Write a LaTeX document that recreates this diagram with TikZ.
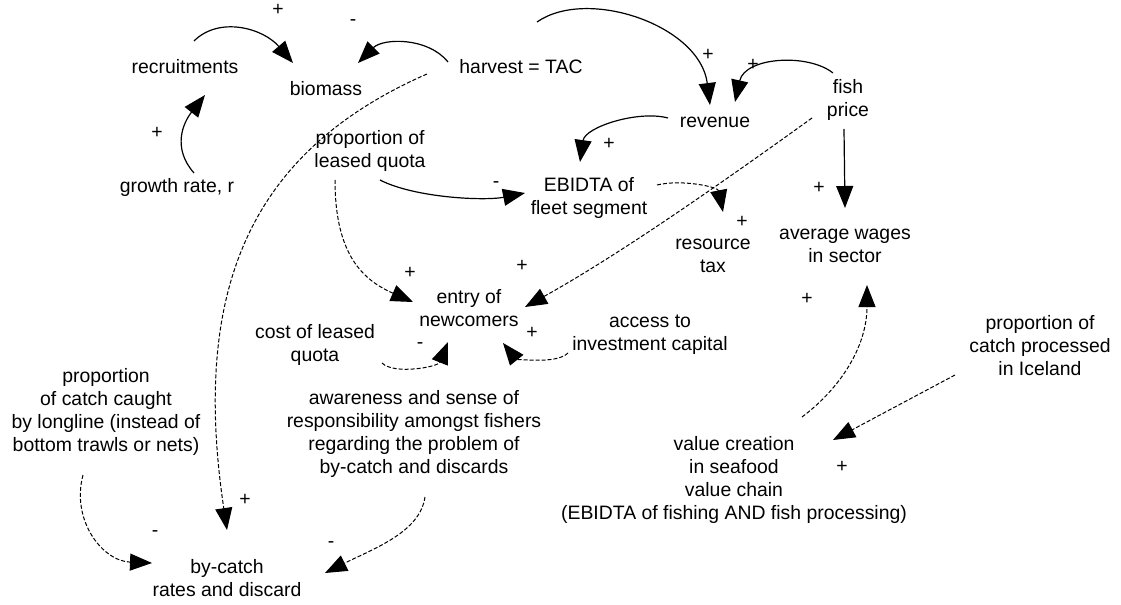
\documentclass[tikz,border=0pt]{standalone}
\usepackage{fontspec}
\setmainfont{Liberation Sans}
\usetikzlibrary{arrows.meta}

\begin{document}
\begin{tikzpicture}[x=0.5pt, y=-0.5pt,
  every node/.style = {align=center, inner sep=0pt,
    font=\fontsize{9.7}{11.5}\selectfont},
  link/.style = {line width=0.6pt, -{Triangle[length=11pt,width=8.5pt]}},
  dlink/.style = {link, line width=0.5pt, dash pattern=on 2pt off 1pt}]
  \useasboundingbox (0,0) rectangle (1121,605);
  \node (recruit) at (185,67) {recruitments};
  \node (biomass) at (326,89) {biomass};
  \node (harvest) at (521,67) {harvest = TAC};
  \node (growth) at (177,187) {growth rate, r};
  \node (leased) at (370,151) {proportion of\\leased quota};
  \node (ebidta) at (589,198) {EBIDTA of\\fleet segment};
  \node (revenue) at (715,122) {revenue};
  \node (fish) at (848,100) {fish\\price};
  \node (tax) at (713,256) {resource\\tax};
  \node (wages) at (845,246) {average wages\\in sector};
  \node (entry) at (469,308) {entry of\\newcomers};
  \node (cost) at (315,345) {cost of leased\\quota};
  \node (access) at (650,335) {access to\\investment capital};
  \node (longline) at (106,412) {proportion\\of catch caught\\by longline (instead of\\bottom trawls or nets)};
  \node (aware) at (414,434) {awareness and sense of\\responsibility amongst fishers\\regarding the problem of\\by-catch and discards};
  \node (bycatch) at (227,578) {by-catch\\rates and discard};
  \node (iceland) at (1040,346) {proportion of\\catch processed\\in Iceland};
  \node (value) at (734,480) {value creation\\in seafood\\value chain\\(EBIDTA of fishing AND fish processing)};

  \foreach \n/\x/\y/\s in {1/278/10/+, 2/353/23/-, 3/157/133/+, 4/708/55/+,
      5/753/65/+, 6/609/144/+, 7/496/185/-, 8/742/222/+, 9/819/188/+,
      10/410/273/+, 11/522/266/+, 12/420/346/-, 13/532/333/+, 14/807/299/+,
      15/245/500/+, 16/155/534/-, 17/331/545/-, 18/842/467/+}
    \node (sign\n) at (\x,\y) {\s};

  \draw[link] ([shift={(9,-26)}]recruit.center) .. controls +(25,-25) and +(-30,-35) .. ([shift={(-33,-26)}]biomass.center);
  \draw[link] ([shift={(-73,-5)}]harvest.center) .. controls +(-20,-25) and +(25,-25) .. ([shift={(32,-26)}]biomass.center);
  \draw[link] ([shift={(17,-14)}]growth.center) .. controls +(-22,-25) and +(-22,28) .. ([shift={(20,28)}]recruit.center);
  \draw[link] ([shift={(10,29)}]leased.center) .. controls +(35,18) and +(-40,8) .. ([shift={(-64,-5)}]ebidta.center);
  \draw[link] ([shift={(16,-45)}]harvest.center) .. controls +(50,-35) and +(-10,-80) .. ([shift={(-5,-17)}]revenue.center);
  \draw[link] ([shift={(-15,-27)}]fish.center) .. controls +(-25,-20) and +(10,-45) .. ([shift={(20,-20)}]revenue.center);
  \draw[link] ([shift={(-47,-4)}]revenue.center) .. controls +(-30,-8) and +(5,-35) .. ([shift={(-9,-36)}]ebidta.center);
  \draw[dlink] ([shift={(68,-13)}]ebidta.center) .. controls +(25,-6) and +(-5,-25) .. ([shift={(10,-44)}]tax.center);
  \draw[link] ([shift={(-4,29)}]fish.center) -- ([shift={(0,-38)}]wages.center);
  \draw[dlink] ([shift={(-36,18)}]fish.center) .. controls +(-100,72) and +(90,-50) .. ([shift={(56,-1)}]entry.center);
  \draw[dlink] ([shift={(-35,29)}]leased.center) .. controls +(0,75) and +(-50,-22) .. ([shift={(-56,-6)}]entry.center);
  \draw[dlink] ([shift={(67,18)}]cost.center) .. controls +(12,12) and +(-10,25) .. ([shift={(-21,34)}]entry.center);
  \draw[dlink] ([shift={(-82,18)}]access.center) .. controls +(-12,12) and +(12,15) .. ([shift={(34,35)}]entry.center);
  \draw[dlink] ([shift={(68,-63)}]value.center) .. controls +(40,-30) and +(0,60) .. ([shift={(22,39)}]wages.center);
  \draw[dlink] ([shift={(-85,29)}]iceland.center) -- ([shift={(99,-40)}]value.center);
  \draw[dlink] ([shift={(-94,7)}]harvest.center) .. controls +(-176,77) and +(-36,-242) .. ([shift={(0,-48)}]bycatch.center);
  \draw[dlink] ([shift={(-23,63)}]longline.center) .. controls +(-12,45) and +(-50,-2) .. ([shift={(-75,-15)}]bycatch.center);
  \draw[dlink] ([shift={(11,63)}]aware.center) .. controls +(-5,35) and +(50,-25) .. ([shift={(98,-5)}]bycatch.center);
\end{tikzpicture}
\end{document}
